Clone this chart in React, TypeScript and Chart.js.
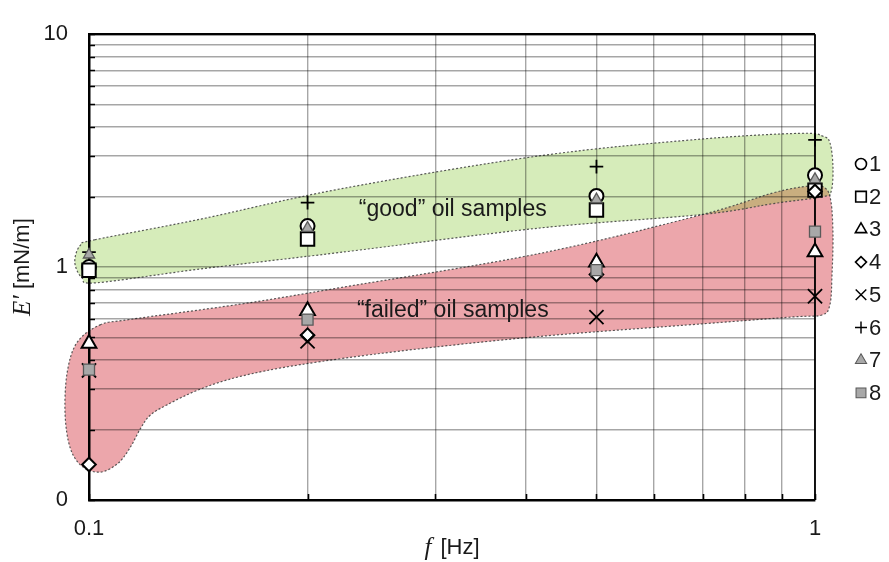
import React, { useEffect, useRef } from 'react';
import { Chart, registerables } from 'chart.js';
import { drawPoint } from 'chart.js/helpers';

Chart.register(...registerables);

// ---------- data ----------
const frequencies = [0.1, 0.2, 0.5, 1];
const seriesLabels = ['1', '2', '3', '4', '5', '6', '7', '8'];
const sample1 = [1.0, 1.5, 2.02, 2.48];
const sample2 = [0.97, 1.32, 1.76, 2.14];
const sample3 = [0.47, 0.65, 1.05, 1.16];
const sample4 = [0.142, 0.51, 0.93, 2.11];
const sample5 = [0.36, 0.48, 0.61, 0.75];
const sample6 = [1.16, 1.89, 2.7, 3.52];
const sample7 = [1.13, 1.47, 1.95, 2.38];
const sample8 = [0.363, 0.595, 0.97, 1.42];
const seriesValues = [sample1, sample2, sample3, sample4, sample5, sample6, sample7, sample8];

// grid / tick positions
const xGridValues = [0.1, 0.2, 0.3, 0.4, 0.5, 0.6, 0.7, 0.8, 0.9, 1];
const yGridValues = [
  0.1, 0.2, 0.3, 0.4, 0.5, 0.6, 0.7, 0.8, 0.9,
  1, 2, 3, 4, 5, 6, 7, 8, 9, 10,
];
const xTickValues = [0.1, 1];
const xTickText = ['0.1', '1'];
const yTickValues = [0.1, 1, 10];
const yTickText = ['0', '1', '10'];

// region outlines in data coordinates (f, E')
const goodRegion: [number, number][] = [
  [0.1019, 1.31], [0.1422, 1.605], [0.2217, 2.165], [0.418, 3.006], [0.6945, 3.542],
  [0.9535, 3.753], [1.0256, 3.646], [1.0488, 3.408], [1.0587, 2.677], [1.052, 2.103],
  [1.0224, 2.004], [0.8752, 1.873], [0.7011, 1.684], [0.418, 1.472], [0.2217, 1.156],
  [0.1422, 0.981], [0.1026, 0.857], [0.0978, 0.899], [0.0956, 1.049], [0.0972, 1.237],
];
const failedRegion: [number, number][] = [
  [0.1036, 0.565], [0.1139, 0.596], [0.1614, 0.693], [0.2217, 0.816], [0.418, 1.145],
  [0.7011, 1.684], [0.8752, 2.083], [0.9842, 2.229], [1.0323, 2.186], [1.052, 1.909],
  [1.0587, 1.362], [1.0554, 0.926], [1.0488, 0.693], [1.0224, 0.623], [0.9327, 0.611],
  [0.7011, 0.571], [0.418, 0.504], [0.2682, 0.436], [0.1953, 0.381], [0.1614, 0.339],
  [0.1422, 0.299], [0.128, 0.256], [0.1213, 0.2305], [0.1176, 0.2014], [0.1139, 0.1676],
  [0.1096, 0.1436], [0.1036, 0.1317], [0.0978, 0.1395], [0.0942, 0.1676], [0.0927, 0.233],
  [0.0933, 0.352], [0.0963, 0.475],
];
const regionTexts = ['\u201Cgood\u201D oil samples', '\u201Cfailed\u201D oil samples'];
const regionTextX = [0.317, 0.317];
const regionTextY = [1.77, 0.648];

// ---------- styles ----------
const SANS = '"Liberation Sans", Arial, sans-serif';
const SERIF = '"Liberation Serif", "Times New Roman", serif';
const GRAY_FILL = '#a8a8a8';
const GRAY_EDGE = '#5a5a5a';
const markerStyles = [
  { style: 'circle', r: 7, lr: 5.5, bg: '#ffffff', bc: '#000000', bw: 2 },
  { style: 'rect', r: 9.5, lr: 7.5, bg: '#ffffff', bc: '#000000', bw: 2 },
  { style: 'triangle', r: 8.5, lr: 6.5, bg: '#ffffff', bc: '#000000', bw: 2 },
  { style: 'rectRot', r: 6.8, lr: 5.5, bg: '#ffffff', bc: '#000000', bw: 2 },
  { style: 'crossRot', r: 10, lr: 7.5, bg: '#ffffff', bc: '#000000', bw: 1.8 },
  { style: 'cross', r: 6.8, lr: 6, bg: '#ffffff', bc: '#000000', bw: 1.8 },
  { style: 'triangle', r: 6.5, lr: 6.5, bg: GRAY_FILL, bc: GRAY_EDGE, bw: 1.3 },
  { style: 'rect', r: 7.8, lr: 7, bg: GRAY_FILL, bc: GRAY_EDGE, bw: 1.3 },
];

function near(a: number, b: number) {
  return Math.abs(a - b) < 1e-9 * Math.max(1, Math.abs(b));
}

function smoothClosed(ctx: CanvasRenderingContext2D, pts: { x: number; y: number }[]) {
  const n = pts.length;
  ctx.beginPath();
  ctx.moveTo(pts[0].x, pts[0].y);
  for (let i = 0; i < n; i++) {
    const p0 = pts[(i - 1 + n) % n];
    const p1 = pts[i];
    const p2 = pts[(i + 1) % n];
    const p3 = pts[(i + 2) % n];
    ctx.bezierCurveTo(
      p1.x + (p2.x - p0.x) / 6, p1.y + (p2.y - p0.y) / 6,
      p2.x - (p3.x - p1.x) / 6, p2.y - (p3.y - p1.y) / 6,
      p2.x, p2.y
    );
  }
  ctx.closePath();
}

const regionsPlugin = {
  id: 'regions',
  beforeDraw(chart: any) {
    const { ctx, scales } = chart;
    const xs = scales.x, ys = scales.y;
    const toPx = (arr: [number, number][]) =>
      arr.map(([a, b]) => ({ x: xs.getPixelForValue(a), y: ys.getPixelForValue(b) }));
    const red = toPx(failedRegion);
    const green = toPx(goodRegion);
    ctx.save();
    smoothClosed(ctx, red);
    ctx.fillStyle = 'rgb(236,166,171)';
    ctx.fill();
    smoothClosed(ctx, green);
    ctx.fillStyle = 'rgba(118,192,25,0.3)';
    ctx.fill();
    ctx.setLineDash([2, 2]);
    ctx.lineWidth = 1.2;
    ctx.strokeStyle = 'rgba(70,70,70,0.9)';
    smoothClosed(ctx, red);
    ctx.stroke();
    smoothClosed(ctx, green);
    ctx.stroke();
    ctx.restore();
  },
  beforeDatasetsDraw(chart: any) {
    const { ctx, chartArea, scales } = chart;
    ctx.save();
    // region texts
    ctx.font = `23px ${SANS}`;
    ctx.fillStyle = '#1a1a1a';
    ctx.textAlign = 'center';
    ctx.textBaseline = 'middle';
    regionTexts.forEach((t, i) => {
      ctx.fillText(t, scales.x.getPixelForValue(regionTextX[i]), scales.y.getPixelForValue(regionTextY[i]));
    });
    // inward tick marks
    ctx.strokeStyle = '#000';
    ctx.lineWidth = 1.6;
    ctx.beginPath();
    scales.y.ticks.forEach((t: any) => {
      const py = Math.round(scales.y.getPixelForValue(t.value)) + 0.5;
      ctx.moveTo(chartArea.left, py);
      ctx.lineTo(chartArea.left + 6, py);
    });
    scales.x.ticks.forEach((t: any) => {
      const px = Math.round(scales.x.getPixelForValue(t.value)) + 0.5;
      ctx.moveTo(px, chartArea.bottom);
      ctx.lineTo(px, chartArea.bottom - 6);
    });
    ctx.stroke();
    // top and right frame
    ctx.lineWidth = 2.2;
    ctx.beginPath();
    ctx.moveTo(chartArea.left, chartArea.top);
    ctx.lineTo(chartArea.right, chartArea.top);
    ctx.stroke();
    ctx.lineWidth = 1.8;
    ctx.beginPath();
    ctx.moveTo(chartArea.right, chartArea.top);
    ctx.lineTo(chartArea.right, chartArea.bottom);
    ctx.stroke();
    ctx.restore();
  },
  afterDraw(chart: any) {
    const { ctx, chartArea } = chart;
    ctx.save();
    // legend
    const legendX = 861;
    const legendTop = 164;
    const legendStep = 32.7;
    chart.data.datasets.forEach((ds: any, i: number) => {
      const m = markerStyles[i];
      const y = legendTop + i * legendStep;
      ctx.fillStyle = m.bg;
      ctx.strokeStyle = m.bc;
      ctx.lineWidth = m.bw * 0.8;
      drawPoint(ctx, { pointStyle: m.style, radius: m.lr, borderWidth: m.bw * 0.8, rotation: 0 } as any, legendX, y);
      ctx.fillStyle = '#1a1a1a';
      ctx.font = `22px ${SANS}`;
      ctx.textAlign = 'left';
      ctx.textBaseline = 'middle';
      ctx.fillText(ds.label, legendX + 8, y + 1);
    });
    // axis titles
    ctx.fillStyle = '#1a1a1a';
    ctx.textBaseline = 'middle';
    ctx.textAlign = 'left';
    // x title
    const fx = (chartArea.left + chartArea.right) / 2;
    ctx.font = `italic 25px ${SERIF}`;
    const w1 = ctx.measureText('f').width;
    ctx.font = `22px ${SANS}`;
    const w2 = ctx.measureText(' [Hz]').width;
    let sx = fx - (w1 + w2 + 3) / 2;
    ctx.font = `italic 25px ${SERIF}`;
    ctx.fillText('f', sx, 548);
    ctx.font = `22px ${SANS}`;
    ctx.fillText(' [Hz]', sx + w1 + 3, 548);
    // y title
    ctx.translate(23, (chartArea.top + chartArea.bottom) / 2);
    ctx.rotate(-Math.PI / 2);
    ctx.font = `italic 25px ${SERIF}`;
    const e1 = ctx.measureText('E\u2032').width;
    ctx.font = `22px ${SANS}`;
    const e2 = ctx.measureText(' [mN/m]').width;
    sx = -(e1 + e2) / 2;
    ctx.font = `italic 25px ${SERIF}`;
    ctx.fillText('E\u2032', sx, 0);
    ctx.font = `22px ${SANS}`;
    ctx.fillText(' [mN/m]', sx + e1, 0);
    ctx.restore();
  },
};

export default function App() {
  const ref = useRef<HTMLCanvasElement | null>(null);
  useEffect(() => {
    if (!ref.current) return;
    const chart = new Chart(ref.current, {
      type: 'scatter',
      data: {
        datasets: seriesValues.map((vals, i) => ({
          label: seriesLabels[i],
          data: frequencies.map((f, j) => ({ x: f, y: vals[j] })),
          pointStyle: markerStyles[i].style as any,
          pointRadius: markerStyles[i].r,
          pointBackgroundColor: markerStyles[i].bg,
          pointBorderColor: markerStyles[i].bc,
          pointBorderWidth: markerStyles[i].bw,
          showLine: false,
          clip: false as any,
          order: 7 - i,
        })),
      },
      options: {
        responsive: false,
        animation: false,
        devicePixelRatio: 1,
        events: [],
        layout: { padding: { left: 0, top: 23, right: 74, bottom: 0 } },
        plugins: { legend: { display: false }, tooltip: { enabled: false } },
        scales: {
          x: {
            type: 'logarithmic',
            min: 0.1,
            max: 1,
            position: 'bottom',
            grid: { color: 'rgba(0,0,0,0.35)', lineWidth: 1.4, drawTicks: false },
            border: { color: '#000', width: 2.5 },
            afterBuildTicks: (s: any) => {
              s.ticks = xGridValues.map((v) => ({ value: v }));
            },
            ticks: {
              autoSkip: false,
              maxRotation: 0,
              padding: 16,
              color: '#1a1a1a',
              font: { family: SANS, size: 22 },
              callback: (v: any) => {
                const k = xTickValues.findIndex((t) => near(Number(v), t));
                return k >= 0 ? xTickText[k] : '';
              },
            },
            afterFit: (s: any) => { s.height = 62; },
          },
          y: {
            type: 'logarithmic',
            min: 0.1,
            max: 10,
            position: 'left',
            grid: { color: 'rgba(0,0,0,0.35)', lineWidth: 1.4, drawTicks: false },
            border: { color: '#000', width: 2.5 },
            afterBuildTicks: (s: any) => {
              s.ticks = yGridValues.map((v) => ({ value: v }));
            },
            ticks: {
              autoSkip: false,
              padding: 21,
              color: '#1a1a1a',
              font: { family: SANS, size: 22 },
              callback: (v: any) => {
                const k = yTickValues.findIndex((t) => near(Number(v), t));
                return k >= 0 ? yTickText[k] : '';
              },
            },
            afterFit: (s: any) => { s.width = 89; },
          },
        },
      },
      plugins: [regionsPlugin],
    } as any);
    return () => chart.destroy();
  }, []);
  return (
    <div style={{ position: 'fixed', left: 0, top: 0, width: 889, height: 562, background: '#fff' }}>
      <canvas ref={ref} width={889} height={562} style={{ width: 889, height: 562, display: 'block' }} />
    </div>
  );
}
